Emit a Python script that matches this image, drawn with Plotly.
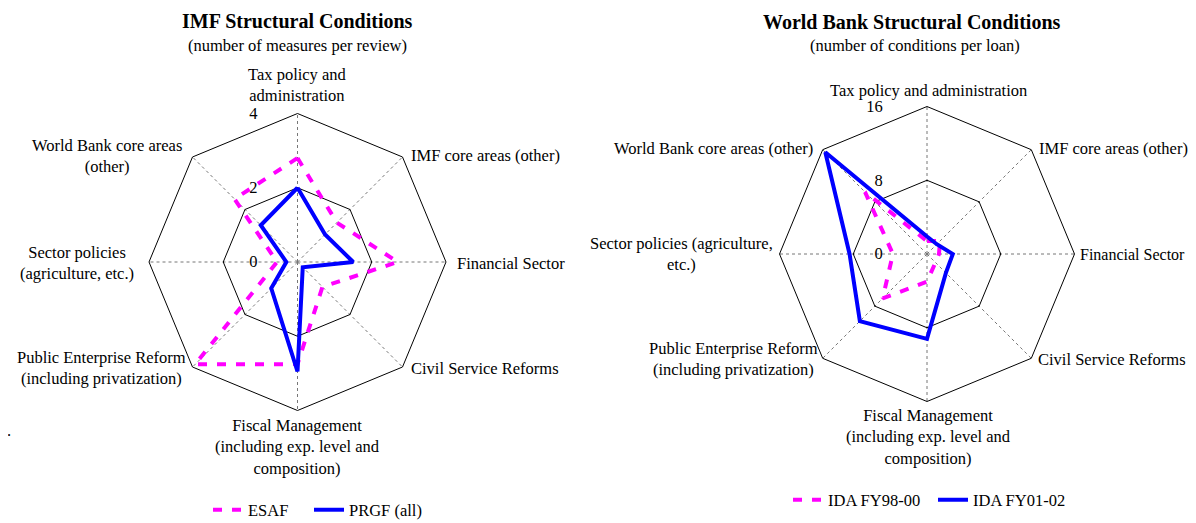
import plotly.graph_objects as go

# page body has an 8px default margin; the figure is offset by it
OFF = 8
W, H = 1196 - OFF, 523 - OFF

categories = ["Tax policy and administration", "IMF core areas (other)", "Financial Sector",
              "Civil Service Reforms", "Fiscal Management", "Public Enterprise Reform",
              "Sector policies", "World Bank core areas (other)"]

imf_esaf = [2.8, 1.5, 2.7, 0.95, 2.75, 3.9, 0.55, 2.4]
imf_prgf = [2.0, 1.05, 1.5, 0.2, 2.95, 1.0, 0.3, 1.4]
wb_ida_98_00 = [1.4, 2.0, 1.3, 1.3, 3.0, 6.8, 3.7, 9.5]
wb_ida_01_02 = [1.9, 1.5, 2.8, 2.9, 9.2, 10.3, 8.4, 15.6]

imf_ticks = [0, 2, 4]
wb_ticks = [0, 8, 16]

FONT = "Liberation Serif"
FS = 16.5
MAGENTA = "#FF00FF"
BLUE = "#0000FF"
NB = "\u00a0"


def closed(v):
    return list(v) + [v[0]]


theta = closed(categories)

fig = go.Figure()
fig.add_trace(go.Scatterpolar(r=closed(imf_esaf), theta=theta, mode="lines", name="ESAF",
                              line=dict(color=MAGENTA, width=4, dash="9px,10px"),
                              subplot="polar", legend="legend"))
fig.add_trace(go.Scatterpolar(r=closed(imf_prgf), theta=theta, mode="lines", name="PRGF (all)",
                              line=dict(color=BLUE, width=4), subplot="polar", legend="legend2"))
fig.add_trace(go.Scatterpolar(r=closed(wb_ida_98_00), theta=theta, mode="lines", name="IDA FY98-00",
                              line=dict(color=MAGENTA, width=4, dash="9px,10px"),
                              subplot="polar2", legend="legend3"))
fig.add_trace(go.Scatterpolar(r=closed(wb_ida_01_02), theta=theta, mode="lines", name="IDA FY01-02",
                              line=dict(color=BLUE, width=4), subplot="polar2", legend="legend4"))


def px(x):
    return (x - OFF) / W


def py(y):
    return 1 - (y - OFF) / H


def tick_text(v, pad):
    return str(v) + NB * pad


def polar_layout(cx, cy, rad, ticks, pad):
    return dict(
        domain=dict(x=[px(cx - rad), px(cx + rad)], y=[py(cy + rad), py(cy - rad)]),
        gridshape="linear",
        bgcolor="white",
        angularaxis=dict(rotation=90, direction="clockwise", showticklabels=False, ticks="",
                         showline=True, linecolor="black", linewidth=1,
                         showgrid=True, gridcolor="#777777", griddash="dot", gridwidth=1,
                         categoryorder="array", categoryarray=categories),
        radialaxis=dict(range=[0, ticks[-1]], tickvals=ticks,
                        ticktext=[tick_text(t, pad) for t in ticks],
                        angle=90, tickangle=90,
                        side="counterclockwise", showline=False, ticks="",
                        showgrid=True, gridcolor="black", gridwidth=1,
                        tickfont=dict(family=FONT, size=FS, color="black")),
    )


def legend_at(text_x, y):
    # legend item text begins 40px to the right of the legend's left edge
    return dict(x=px(text_x - 40), y=py(y), orientation="h", xanchor="left", yanchor="middle",
                font=dict(family=FONT, size=FS), bgcolor="rgba(0,0,0,0)")


fig.update_layout(
    width=W, height=H,
    margin=dict(l=0, r=0, t=0, b=0, autoexpand=False),
    paper_bgcolor="white", plot_bgcolor="white",
    font=dict(family=FONT, size=FS, color="black"),
    polar=polar_layout(297.5, 262, 148.5, imf_ticks, 9),
    polar2=polar_layout(927, 254, 147.5, wb_ticks, 10),
    legend=legend_at(248, 510),
    legend2=legend_at(349, 510),
    legend3=legend_at(828, 500),
    legend4=legend_at(973, 500),
    showlegend=True,
)

ann = []


def add(text, x, y, xanchor="center", size=FS, bold=False):
    ann.append(dict(text=(f"<b>{text}</b>" if bold else text), x=px(x), y=py(y),
                    xref="paper", yref="paper", xanchor=xanchor, yanchor="middle",
                    showarrow=False, align="center" if xanchor == "center" else xanchor,
                    font=dict(family=FONT, size=size, color="black")))


# Left chart
add("IMF Structural Conditions", 297, 21, size=20, bold=True)
add("(number of measures per review)", 297, 45)
add("Tax policy and<br>administration", 297, 85.5)
add("IMF core areas (other)", 409, 156, xanchor="left")
add("Financial Sector", 455, 263, xanchor="left")
add("Civil Service Reforms", 409, 368, xanchor="left")
add("Fiscal Management<br>(including exp. level and<br>composition)", 297, 447)
add("Public Enterprise Reform<br>(including privatization)", 101, 368)
add("Sector policies<br>(agriculture, etc.)", 77, 263)
add("World Bank core areas<br>(other)", 107, 155.5)
add(".", 9, 430)

# Right chart
add("World Bank Structural Conditions", 912, 22, size=20, bold=True)
add("(number of conditions per loan)", 915, 45)
add("Tax policy and administration", 928, 90)
add("IMF core areas (other)", 1037, 148, xanchor="left")
add("Financial Sector", 1078, 254, xanchor="left", size=16)
add("Civil Service Reforms", 1036, 359, xanchor="left")
add("Fiscal Management<br>(including exp. level and<br>composition)", 928, 437)
add("Public Enterprise Reform<br>(including privatization)", 733, 358.5)
add("Sector policies (agriculture,<br>etc.)", 681, 254.5)
add("World Bank core areas (other)", 815, 148, xanchor="right")

fig.update_layout(annotations=ann)

fig.write_html("out.html")
